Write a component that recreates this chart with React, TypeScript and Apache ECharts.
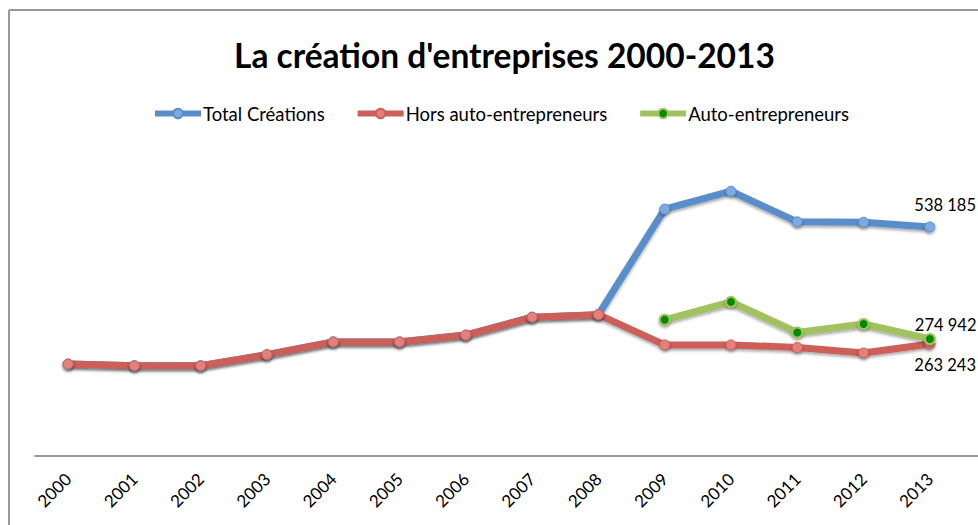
import React, { useEffect, useRef } from "react";
import * as echarts from "echarts";

const years = ["2000","2001","2002","2003","2004","2005","2006","2007","2008","2009","2010","2011","2012","2013"];
const totalCreations = [216000, 212000, 212000, 238000, 268000, 268000, 284000, 326000, 332000, 580000, 622000, 550000, 549000, 538185];
const horsAuto = [216000, 212000, 212000, 238000, 268000, 268000, 284000, 326000, 332000, 261000, 261000, 255000, 242000, 263243];
const autoEntrepreneurs: (number | null)[] = [null, null, null, null, null, null, null, null, null, 320000, 362000, 290000, 310000, 274942];

const fmt = (v: number) => String(Math.round(v)).replace(/\B(?=(\d{3})+(?!\d))/g, " ");

export default function App() {
  const ref = useRef<HTMLDivElement>(null);
  useEffect(() => {
    if (!ref.current) return;
    const chart = echarts.init(ref.current, null, { renderer: "svg" });
    const font = "Lato";
    const last = years.length - 1;
    const withLabel = (arr: (number | null)[], offset: number[]) =>
      arr.map((v, i) =>
        i === last && v != null
          ? {
              value: v,
              label: {
                show: true,
                position: "right",
                distance: 0,
                offset,
                formatter: (p: any) => fmt(p.value),
                color: "#000",
                fontSize: 16.5,
                fontFamily: font,
              },
            }
          : v
      );
    const shadow = { shadowBlur: 3, shadowColor: "rgba(0,0,0,0.35)", shadowOffsetY: 2 };
    chart.setOption({
      animation: false,
      backgroundColor: "#fff",
      title: {
        text: "La création d'entreprises 2000-2013",
        left: 229,
        top: 33,
        textStyle: { fontFamily: font, fontWeight: "bold", fontSize: 33.5, color: "#000" },
      },
      legend: {
        top: 99,
        left: 147,
        itemGap: 30,
        itemWidth: 46,
        itemHeight: 12,
        lineStyle: { width: 6 },
        textStyle: { fontFamily: font, fontSize: 18.5, color: "#000", padding: [0, 0, 0, -3] },
        data: ["Total Créations", "Hors auto-entrepreneurs", "Auto-entrepreneurs"],
      },
      grid: { left: 35, right: 15, top: 158, bottom: 69, containLabel: false },
      xAxis: {
        type: "category",
        data: years,
        boundaryGap: true,
        axisLine: { show: true, lineStyle: { color: "#999", width: 2 } },
        axisTick: { show: false },
        axisLabel: {
          rotate: 45,
          margin: 20,
          color: "#000",
          fontSize: 17,
          fontFamily: font,
        },
      },
      yAxis: {
        type: "value",
        min: 0,
        max: 700000,
        interval: 100000,
        show: false,
        splitLine: { show: false },
      },
      series: [
        {
          name: "Total Créations",
          type: "line",
          data: withLabel(totalCreations, [-21, -22]),
          symbol: "circle",
          symbolSize: 10,
          lineStyle: { color: "#5A8ECA", width: 7, ...shadow },
          itemStyle: { color: "#7CAAE2", borderColor: "#5A8ECA", borderWidth: 1, ...shadow },
        },
        {
          name: "Hors auto-entrepreneurs",
          type: "line",
          data: withLabel(horsAuto, [-21, 21]),
          symbol: "circle",
          symbolSize: 10,
          lineStyle: { color: "#CC5F59", width: 7, ...shadow },
          itemStyle: { color: "#E57F7A", borderColor: "#CC5F59", borderWidth: 1, ...shadow },
        },
        {
          name: "Auto-entrepreneurs",
          type: "line",
          data: withLabel(autoEntrepreneurs, [-21, -14]),
          symbol: "circle",
          symbolSize: 10,
          lineStyle: { color: "#A2C260", width: 7, ...shadow },
          itemStyle: { color: "#008A00", borderColor: "#A2C260", borderWidth: 2, ...shadow },
        },
      ],
      graphic: [
        { type: "line", shape: { x1: 9, y1: 10, x2: 978, y2: 10 }, style: { stroke: "#999", lineWidth: 2 } },
        { type: "line", shape: { x1: 9, y1: 10, x2: 9, y2: 525 }, style: { stroke: "#999", lineWidth: 2 } },
        { type: "line", shape: { x1: 963, y1: 456, x2: 978, y2: 456 }, style: { stroke: "#999", lineWidth: 2 } },
      ],
    });
    return () => chart.dispose();
  }, []);
  return (
    <div
      ref={ref}
      style={{ position: "absolute", left: 0, top: 0, width: 978, height: 525 }}
    />
  );
}
